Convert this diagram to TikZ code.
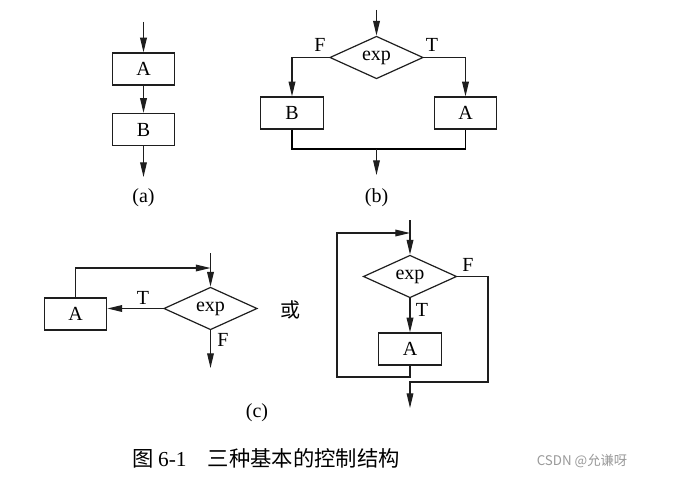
\documentclass[tikz,border=0pt]{standalone}
\usepackage{fontspec}
\setmainfont{Liberation Serif}
\newfontfamily\cjk{Noto Sans CJK SC}
\usetikzlibrary{positioning, arrows.meta, shapes.geometric}
\definecolor{linea}{HTML}{1E1E1E}
\definecolor{apagado}{HTML}{9A9A9A}

\begin{document}
\begin{tikzpicture}[x=0.75pt, y=-0.75pt, font=\fontsize{15}{17}\selectfont, line width=0.9pt,
  caja/.style={draw=linea, minimum width=47pt, minimum height=24pt, inner sep=0pt},
  rombo/.style={diamond, draw=linea, minimum width=70pt, minimum height=25.5pt, inner sep=0pt},
  flecha/.style={draw=linea, -{Triangle[length=11pt, width=5pt]}}]
\useasboundingbox[fill=white] (0,0) rectangle (688,481);

% (a) secuencia
\node[caja] (Aa) at (143.5,69) {A};
\node[caja] (Ba) at (143.5,129.5) {B};
\coordinate (ea) at (143.5,22);
\coordinate (sa) at (143.5,177);
\draw[flecha] (ea) -- (Aa);
\draw[flecha] (Aa) -- (Ba);
\draw[flecha] (Ba) -- (sa);
\node (la) at (143.5,198) {(a)};

% (b) seleccion
\node[rombo] (db) at (376.5,57.5) {exp};
\node[caja] (Bb) at (292,113) {B};
\node[caja] (Ab) at (465.5,113) {A};
\coordinate (eb) at (376.5,10);
\coordinate (jb) at (376.5,149);
\coordinate (sb) at (376.5,175);
\draw[flecha] (eb) -- (db);
\draw[flecha] (db.west) -| (Bb);
\draw[flecha] (db.east) -| (Ab);
\draw (Bb) |- (jb) -| (Ab);
\draw[flecha] (jb) -- (sb);
\node (fb) at (320,45) {F};
\node (tb) at (432,45) {T};
\node (lb) at (376.5,198) {(b)};

% (c) repeticion, izquierda
\node[rombo] (dc) at (210.5,308.5) {exp};
\node[caja] (Ac) at (75.5,314) {A};
\coordinate (ec) at (210.5,253);
\coordinate (rc) at (210.5,268);
\coordinate (sc) at (210.5,368);
\draw[flecha] (ec) -- (dc);
\draw[flecha] (Ac.north) |- (rc);
\draw[flecha] (dc.west) -- (dc.west -| Ac.east);
\draw[flecha] (dc) -- (sc);
\node (tc) at (143,298) {T};
\node (fc) at (223,340) {F};
\node[font=\cjk\fontsize{15}{17}\selectfont] (o) at (290,310) {或};
\node (lc) at (257,413) {(c)};

% (c) repeticion, derecha
\node[rombo] (dd) at (410,276.5) {exp};
\node[caja] (Ad) at (410,349) {A};
\coordinate (ed) at (410,220);
\coordinate (rd) at (410,233);
\coordinate (bd) at (337,377);
\coordinate (fd) at (488,382);
\coordinate (sd) at (410,408);
\draw[flecha] (ed) -- (dd);
\draw[flecha] (dd) -- (Ad);
\draw[flecha] (Ad) |- (bd) |- (rd);
\draw[flecha] (dd.east) -| (fd) -| (sd);
\node (td) at (422,310) {T};
\node (fdl) at (468,265) {F};

% pie
\node[font=\cjk\fontsize{16}{18}\selectfont] (pie) at (266,458) {图 {\rmfamily 6-1}\hspace{16pt}三种基本的控制结构};
\node[text=apagado, font=\cjk\fontsize{10}{12}\selectfont] (marca) at (582,461) {CSDN @允谦呀};
\end{tikzpicture}
\end{document}
